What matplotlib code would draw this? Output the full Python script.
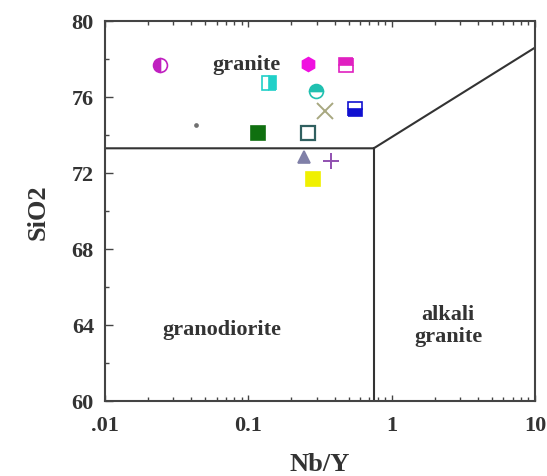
import matplotlib
matplotlib.use("Agg")
import matplotlib.pyplot as plt
from matplotlib.ticker import FixedLocator, LogLocator, NullFormatter, FixedFormatter

# Sample data (Nb/Y vs SiO2)
nby = [0.0242, 0.0431, 0.117, 0.139, 0.261, 0.296, 0.343, 0.261, 0.245, 0.377, 0.283, 0.481, 0.556]
sio2 = [77.68, 74.53, 74.1, 76.74, 77.74, 76.3, 75.26, 74.1, 72.84, 72.63, 71.7, 77.68, 75.37]
markers = ['o', '.', 's', 's', 'h', 'o', 'x', 's', '^', '+', 's', 's', 's']
colors = ['#c020c0', '#707070', '#107010', '#20d0c8', '#f010e0', '#20c0b0',
          '#a8a880', '#306060', '#8080a8', '#9050b0', '#f0f000', '#e020c0', '#1010d0']
fills = ['left', 'full', 'full', 'right', 'full', 'top', 'full', 'none', 'full', 'full', 'full', 'top', 'bottom']
sizes = [10, 4, 10, 10, 10, 10, 12, 10, 9, 11, 10, 10, 10]

# Field boundaries
boundary_x = [0.01, 0.75, 10]
boundary_y = [73.3, 73.3, 78.6]
divider_x = [0.75, 0.75]
divider_y = [60, 73.3]

yticks = [60, 64, 68, 72, 76, 80]
xticks = [0.01, 0.1, 1, 10]
xticklabels = ['.01', '0.1', '1', '10']

plt.rcParams['font.family'] = ['Liberation Serif', 'DejaVu Serif']
plt.rcParams['font.weight'] = 'bold'
plt.rcParams['axes.labelweight'] = 'bold'

fig = plt.figure(figsize=(5.47, 4.77), dpi=100)
ax = fig.add_axes([105 / 547, 1 - 402 / 477, 430 / 547, 380 / 477])
ax.set_xscale('log')
ax.set_xlim(0.01, 10)
ax.set_ylim(60, 80)

ax.plot(boundary_x, boundary_y, color='#333333', lw=1.5)
ax.plot(divider_x, divider_y, color='#333333', lw=1.5)

for x, y, m, c, f, s in zip(nby, sio2, markers, colors, fills, sizes):
    if f == 'none':
        ax.plot(x, y, marker=m, ms=s, mfc='white', mec=c, mew=1.6, ls='none')
    elif m in ('x', '+', '.'):
        ax.plot(x, y, marker=m, ms=s, color=c, mew=1.4, ls='none')
    else:
        ax.plot(x, y, marker=m, ms=s, mfc=c, mec=c, mfcalt='white',
                fillstyle=f, mew=1.2, ls='none')

ax.text(0.0964, 77.75, 'granite', ha='center', va='center', fontsize=16, color='#333333')
ax.text(0.0655, 63.8, 'granodiorite', ha='center', va='center', fontsize=16, color='#333333')
ax.text(2.48, 64.0, 'alkali\ngranite', ha='center', va='center', fontsize=16,
        color='#333333', linespacing=1.1)

ax.yaxis.set_major_locator(FixedLocator(yticks))
ax.yaxis.set_minor_locator(FixedLocator([62, 66, 70, 74, 78]))
ax.xaxis.set_major_locator(FixedLocator(xticks))
ax.xaxis.set_major_formatter(FixedFormatter(xticklabels))
ax.xaxis.set_minor_locator(LogLocator(base=10, subs=range(2, 10)))
ax.xaxis.set_minor_formatter(NullFormatter())
ax.tick_params(which='both', direction='in', top=True, right=False, length=4,
               width=1, color='#444444', labelsize=16, labelcolor='#333333')
ax.tick_params(which='minor', length=3)
ax.tick_params(axis='y', which='major', length=6, pad=8)
ax.tick_params(axis='x', which='major', pad=10)
for sp in ax.spines.values():
    sp.set_color('#444444')
    sp.set_linewidth(1.5)

ax.set_ylabel('SiO2', fontsize=19, color='#333333', labelpad=16)
ax.set_xlabel('Nb/Y', fontsize=19, color='#333333', labelpad=12)

fig.savefig('out.png', dpi=100)
